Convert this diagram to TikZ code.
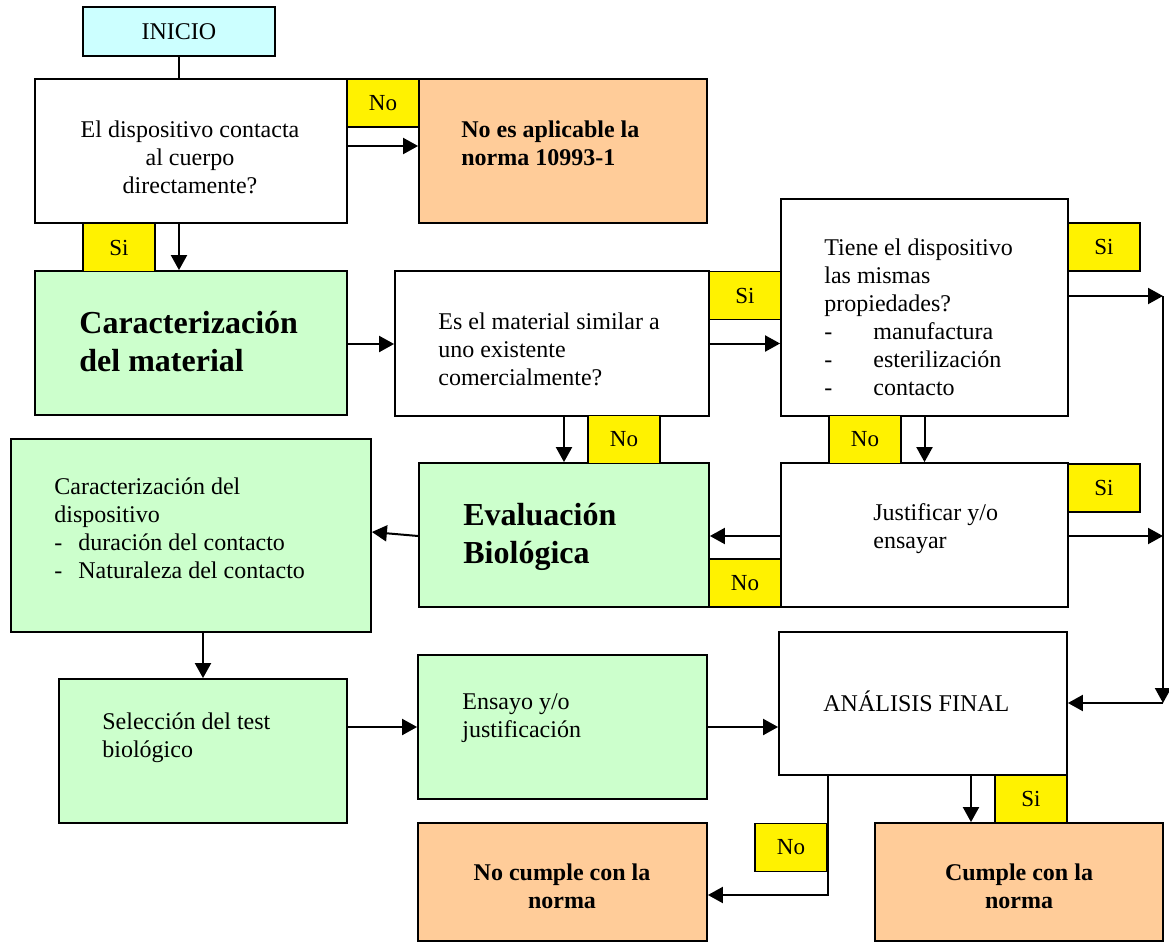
\documentclass[tikz,border=0pt]{standalone}
\usepackage{fontspec}
\setmainfont{Liberation Serif}
\usepackage{tikz}
\usetikzlibrary{arrows.meta}

\definecolor{startcyan}{HTML}{CCFFFF}
\definecolor{procgreen}{HTML}{CCFFCC}
\definecolor{resorange}{HTML}{FFCC99}

\begin{document}
\begin{tikzpicture}[
    x=0.5pt, y=-0.5pt,
    box/.style={rectangle, draw, line width=0.9pt, inner sep=0pt},
    startbox/.style={box, fill=startcyan, font=\fontsize{12}{14}\selectfont},
    question/.style={box, fill=white},
    process/.style={box, fill=procgreen},
    outcome/.style={box, fill=resorange},
    tag/.style={box, fill=yellow, minimum width=36pt, minimum height=24pt, font=\fontsize{11.5}{13}\selectfont},
    txt/.style={inner sep=0pt, align=left, anchor=north west, font=\fontsize{12}{14}\selectfont},
    boldtxt/.style={txt, font=\fontsize{12}{14}\selectfont\bfseries},
    bigtxt/.style={txt, font=\fontsize{16}{19}\selectfont\bfseries},
    msg/.style={-{Triangle[length=7.5pt,width=8pt]}, line width=1pt}
]
\useasboundingbox (0,0) rectangle (1169,943);

% Boxes
\node[startbox, minimum width=96pt, minimum height=24.5pt] (inicio) at (179,31.5) {INICIO};
\node[question, minimum width=156pt, minimum height=72pt] (contacto) at (191,151) {};
\node[outcome, minimum width=144pt, minimum height=72pt] (noaplica) at (563,151) {};
\node[process, minimum width=156pt, minimum height=72pt] (caractmat) at (191,343) {};
\node[question, minimum width=157pt, minimum height=72.5pt] (similar) at (552,343.5) {};
\node[question, minimum width=143.5pt, minimum height=108.5pt] (propiedades) at (924.5,307.5) {};
\node[process, minimum width=145pt, minimum height=72pt] (evalbio) at (564,535) {};
\node[question, minimum width=143.5pt, minimum height=72pt] (justif) at (924.5,535) {};
\node[process, minimum width=180pt, minimum height=96.5pt] (caractdisp) at (191,535.5) {};
\node[process, minimum width=144pt, minimum height=72pt] (seleccion) at (203,751) {};
\node[process, minimum width=144.5pt, minimum height=72pt] (ensayo) at (562.5,727) {};
\node[question, minimum width=144pt, minimum height=71.5pt] (analisis) at (923,703.5) {};
\node[outcome, minimum width=144.5pt, minimum height=59pt] (nocumple) at (562.5,882) {};
\node[outcome, minimum width=144pt, minimum height=59pt] (cumple) at (1019,882) {};

% Texts
\node[txt, align=center, anchor=north] (contactotxt) at (190,120) {El dispositivo contacta\\al cuerpo\\directamente?};
\node[boldtxt] (noaplicatxt) at (461,120) {No es aplicable la\\norma 10993-1};
\node[bigtxt] (caractmattxt) at (79,311) {Caracterización\\del material};
\node[txt] (similartxt) at (438,312) {Es el material similar a\\uno existente\\comercialmente?};
\node[txt] (propiedadestxt) at (824,238) {Tiene el dispositivo\\las mismas\\propiedades?\\
  \makebox[24.5pt][l]{-}manufactura\\\makebox[24.5pt][l]{-}esterilización\\\makebox[24.5pt][l]{-}contacto};
\node[bigtxt] (evalbiotxt) at (463,503) {Evaluación\\Biológica};
\node[txt] (justiftxt) at (873,503) {Justificar y/o\\ensayar};
\node[txt] (caractdisptxt) at (54,477) {Caracterización del\\dispositivo\\
  \makebox[12pt][l]{-}duración del contacto\\\makebox[12pt][l]{-}Naturaleza del contacto};
\node[txt] (selecciontxt) at (102,712) {Selección del test\\biológico};
\node[txt] (ensayotxt) at (462,693) {Ensayo y/o\\justificación};
\node[txt, anchor=base west] (analisistxt) at (823,711) {ANÁLISIS FINAL};
\node[boldtxt, align=center, anchor=north] (nocumpletxt) at (562,863) {No cumple con la\\norma};
\node[boldtxt, align=center, anchor=north] (cumpletxt) at (1019,863) {Cumple con la\\norma};

% Yes / no tags
\node[tag] (no1) at (383,103) {No};
\node[tag] (si1) at (119,247.5) {Si};
\node[tag] (si2) at (745,295.5) {Si};
\node[tag] (si3) at (1104,247) {Si};
\node[tag] (no2) at (624,439.5) {No};
\node[tag] (no3) at (865,439.5) {No};
\node[tag] (si4) at (1104,488) {Si};
\node[tag] (no4) at (745,583) {No};
\node[tag] (si5) at (1031,799) {Si};
\node[tag] (no5) at (791,847.5) {No};

% Connectors
\coordinate (railtop) at (1163,296);
\coordinate (railbot) at (1163,703);
\draw[line width=1pt] (inicio.south) -- (inicio.south |- contacto.north);
\draw[msg] (contacto.east |- 0,146) -- (noaplica.west |- 0,146);
\draw[msg] (contacto.south -| inicio.south) -- (caractmat.north -| inicio.south);
\draw[msg] (caractmat.east |- 0,344) -- (similar.west |- 0,344);
\draw[msg] (similar.east) -- (similar.east -| propiedades.west);
\draw[msg] (propiedades.east |- railtop) -- (railtop);
\draw[msg] (justif.east |- 0,536) -- (railtop |- 0,536);
\draw[msg] (railtop) -- (railbot);
\draw[msg] (railbot) -- (railbot -| analisis.east);
\draw[msg] (evalbio.north |- similar.south) -- (evalbio.north);
\draw[msg] (propiedades.south) -- (propiedades.south |- justif.north);
\draw[msg] (justif.west |- 0,536) -- (evalbio.east |- 0,536);
\draw[msg] (evalbio.west |- 0,536) -- (caractdisp.east |- 0,532);
\draw[msg] (seleccion.north |- caractdisp.south) -- (seleccion.north);
\draw[msg] (seleccion.east |- ensayo.west) -- (ensayo.west);
\draw[msg] (ensayo.east) -- (ensayo.east -| analisis.west);
\draw[msg] (analisis.south -| 971,0) -- (cumple.north -| 971,0);
\draw[msg] (analisis.south -| no5.east) |- (nocumple.east |- 0,895);

\end{tikzpicture}
\end{document}
